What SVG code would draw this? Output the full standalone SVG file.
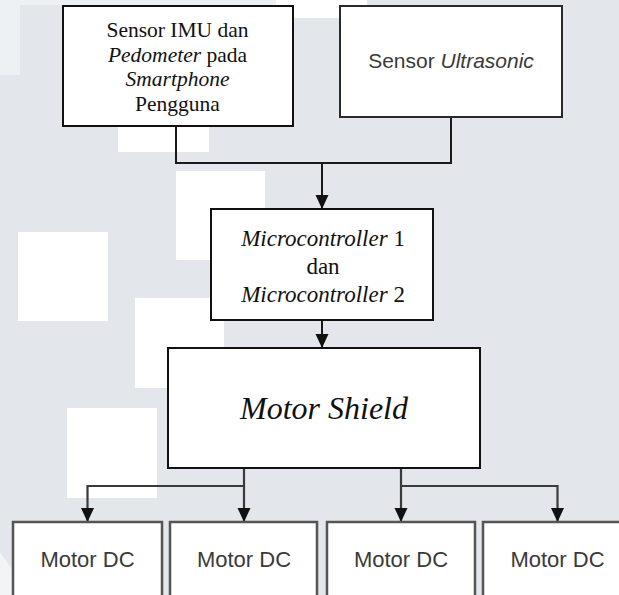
<svg xmlns="http://www.w3.org/2000/svg" width="619" height="595" viewBox="0 0 619 595">
  <style>
    .box { fill: #ffffff; stroke: #111111; stroke-width: 2; }
    .gbox { fill: #ffffff; stroke: #555555; stroke-width: 2.5; }
    .serif { font-family: "Liberation Serif", "Times New Roman", serif; fill: #111111; text-anchor: middle; }
    .sans { font-family: "Liberation Sans", Arial, sans-serif; fill: #3a3a3a; text-anchor: middle; }
    .wm { fill: #ffffff; }
    .conn { fill: none; stroke: #1a1a1a; stroke-width: 2; }
    .conn2 { fill: none; stroke: #3a3a3a; stroke-width: 2.2; }
  </style>
  <defs>
    <marker id="arrow" markerUnits="userSpaceOnUse" markerWidth="16" markerHeight="16" viewBox="0 -8 16 16" refX="14" refY="0" orient="auto">
      <path d="M0,-6.5 L14,0 L0,6.5 z" fill="#111111"/>
    </marker>
  </defs>

  <!-- background with watermark -->
  <g id="background">
    <rect x="0" y="0" width="619" height="595" fill="#e3e7eb"/>
    <rect x="10" y="0" width="270" height="5" fill="#eef1f3"/>
    <rect x="0" y="0" width="20" height="75" fill="#eef1f3"/>
    <rect class="wm" x="118" y="62" width="91" height="90"/>
    <rect class="wm" x="176" y="171" width="89" height="89"/>
    <rect class="wm" x="18" y="232" width="90" height="89"/>
    <rect class="wm" x="135" y="298" width="89" height="90"/>
    <rect class="wm" x="67" y="408" width="90" height="90"/>
    <rect class="wm" x="276" y="0" width="91" height="18"/>
    <polygon points="0,552 14,572 14,595 0,595" fill="#f2f4f6"/>
  </g>

  <g id="connectors">
    <path class="conn" d="M176,126 V163 H451 V117"/>
    <path class="conn" d="M322,163 V209" marker-end="url(#arrow)"/>
    <path class="conn" d="M322,320 V348" marker-end="url(#arrow)"/>
    <path class="conn2" d="M244,468 V522" marker-end="url(#arrow)"/>
    <path class="conn2" d="M244,486 H87.5 V522" marker-end="url(#arrow)"/>
    <path class="conn2" d="M401,468 V522" marker-end="url(#arrow)"/>
    <path class="conn2" d="M401,486 H557.5 V522" marker-end="url(#arrow)"/>
  </g>

  <g id="node-sensor-imu">
    <rect class="box" x="63" y="6" width="230" height="120"/>
    <text class="serif" font-size="21.5" x="177.5" y="37">Sensor IMU dan</text>
    <text class="serif" font-size="21.5" x="177.5" y="61.5"><tspan font-style="italic">Pedometer</tspan> pada</text>
    <text class="serif" font-size="21.5" x="177.5" y="86" font-style="italic">Smartphone</text>
    <text class="serif" font-size="21.5" x="177.5" y="110.5">Pengguna</text>
  </g>

  <g id="node-sensor-ultrasonic">
    <rect class="box" x="340" y="6" width="222" height="111" style="stroke:#2a2a2a"/>
    <text class="sans" font-size="21" x="451" y="68">Sensor <tspan font-style="italic">Ultrasonic</tspan></text>
  </g>

  <g id="node-microcontroller">
    <rect class="box" x="211" y="209" width="222" height="111"/>
    <text class="serif" font-size="23" x="323" y="246"><tspan font-style="italic">Microcontroller</tspan> 1</text>
    <text class="serif" font-size="23" x="323" y="273.5">dan</text>
    <text class="serif" font-size="23" x="323" y="301.5"><tspan font-style="italic">Microcontroller</tspan> 2</text>
  </g>

  <g id="node-motor-shield">
    <rect class="box" x="168" y="348" width="312" height="120"/>
    <text class="serif" font-size="32" x="324" y="419" font-style="italic">Motor Shield</text>
  </g>

  <g id="node-motor-dc-1">
    <rect class="gbox" x="13" y="522" width="149" height="90"/>
    <text class="sans" font-size="22" x="87.5" y="566.5">Motor DC</text>
  </g>
  <g id="node-motor-dc-2">
    <rect class="gbox" x="170" y="522" width="147" height="90"/>
    <text class="sans" font-size="22" x="244" y="566.5">Motor DC</text>
  </g>
  <g id="node-motor-dc-3">
    <rect class="gbox" x="327" y="522" width="148" height="90"/>
    <text class="sans" font-size="22" x="401" y="566.5">Motor DC</text>
  </g>
  <g id="node-motor-dc-4">
    <rect class="gbox" x="483" y="522" width="150" height="90"/>
    <text class="sans" font-size="22" x="557.5" y="566.5">Motor DC</text>
  </g>
</svg>
